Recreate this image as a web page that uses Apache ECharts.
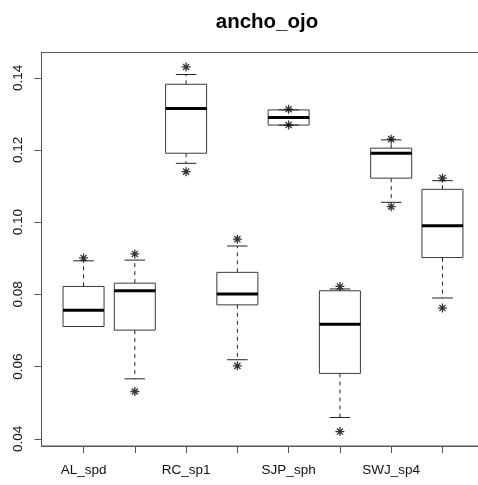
<!DOCTYPE html>
<html>
<head>
<meta charset="utf-8">
<script src="https://cdn.jsdelivr.net/npm/echarts@6/dist/echarts.min.js"></script>
<style>
  html, body { margin: 0; padding: 0; background: #fff; }
  #chart { width: 478px; height: 485px; }
</style>
</head>
<body>
<div id="chart"></div>
<script>
// Eye-width (ancho_ojo) by group: box statistics and extreme points
const groupPositions = [1, 2, 3, 4, 5, 6, 7, 8];
const lowWhisker  = [0.0711, 0.0566, 0.1163, 0.0619, 0.1269, 0.0459, 0.1055, 0.0790];
const lowerQuart  = [0.0711, 0.0701, 0.1191, 0.0771, 0.1269, 0.0581, 0.1122, 0.0902];
const medians     = [0.0756, 0.0810, 0.1315, 0.0801, 0.1290, 0.0717, 0.1191, 0.0990];
const upperQuart  = [0.0822, 0.0831, 0.1382, 0.0861, 0.1311, 0.0810, 0.1205, 0.1091];
const highWhisker = [0.0893, 0.0895, 0.1409, 0.0934, 0.1311, 0.0815, 0.1228, 0.1115];
const maxPoints   = [0.0901, 0.0912, 0.1430, 0.0953, 0.1313, 0.0822, 0.1230, 0.1122];
const minPoints   = [null,   0.0531, 0.1140, 0.0602, 0.1269, 0.0420, 0.1043, 0.0762];

const labelPositions = [1, 3, 5, 7];
const tickLabels = ['AL_spd', 'RC_sp1', 'SJP_sph', 'SWJ_sp4'];
const yTicks = [0.04, 0.06, 0.08, 0.10, 0.12, 0.14];

const boxData = groupPositions.map((x, i) =>
  [x, lowWhisker[i], lowerQuart[i], medians[i], upperQuart[i], highWhisker[i]]);

const pointData = [];
groupPositions.forEach((x, i) => {
  if (maxPoints[i] != null) pointData.push([x, maxPoints[i]]);
  if (minPoints[i] != null) pointData.push([x, minPoints[i]]);
});

const boxStroke = '#3a3a3a';
const fontFamily = 'Liberation Sans, Arial, sans-serif';

function renderBox(params, api) {
  const x = api.value(0);
  const half = api.size([0.8, 0])[0] / 2;
  const cap = half / 2;
  const pLow = api.coord([x, api.value(1)]);
  const pQ1 = api.coord([x, api.value(2)]);
  const pMed = api.coord([x, api.value(3)]);
  const pQ3 = api.coord([x, api.value(4)]);
  const pHigh = api.coord([x, api.value(5)]);
  const cx = pMed[0];
  const children = [];
  const dashed = { stroke: '#222', lineWidth: 1, lineDash: [4, 4] };
  const solid = { stroke: '#222', lineWidth: 1 };
  if (pLow[1] - pQ1[1] > 0.5) {
    children.push({ type: 'line', shape: { x1: cx, y1: pQ1[1], x2: cx, y2: pLow[1] }, style: dashed });
  }
  if (pQ3[1] - pHigh[1] > 0.5) {
    children.push({ type: 'line', shape: { x1: cx, y1: pQ3[1], x2: cx, y2: pHigh[1] }, style: dashed });
  }
  children.push({ type: 'line', shape: { x1: cx - cap, y1: pLow[1], x2: cx + cap, y2: pLow[1] }, style: solid });
  children.push({ type: 'line', shape: { x1: cx - cap, y1: pHigh[1], x2: cx + cap, y2: pHigh[1] }, style: solid });
  children.push({
    type: 'rect',
    shape: { x: cx - half, y: pQ3[1], width: half * 2, height: pQ1[1] - pQ3[1] },
    style: { fill: 'rgba(255,255,255,0)', stroke: boxStroke, lineWidth: 1 }
  });
  children.push({
    type: 'line',
    shape: { x1: cx - half, y1: pMed[1], x2: cx + half, y2: pMed[1] },
    style: { stroke: '#000', lineWidth: 3 }
  });
  return { type: 'group', children };
}

const chart = echarts.init(document.getElementById('chart'), null, { renderer: 'canvas' });
chart.setOption({
  animation: false,
  backgroundColor: '#fff',
  textStyle: { fontFamily },
  title: {
    text: 'ancho_ojo',
    left: 262,
    top: 7,
    textAlign: 'center',
    textStyle: { fontSize: 20.5, fontWeight: 'bold', color: '#000', fontFamily }
  },
  grid: {
    left: 41.5,
    top: 52.5,
    right: -6.5,
    bottom: 39,
    show: true,
    borderColor: '#555',
    borderWidth: 1,
    backgroundColor: 'transparent',
    containLabel: false,
    outerBoundsMode: 'none'
  },
  xAxis: {
    type: 'value',
    min: 0.18,
    max: 8.82,
    splitLine: { show: false },
    axisLine: { show: true, lineStyle: { color: '#555', width: 1 } },
    axisTick: { show: true, length: 7, customValues: groupPositions, lineStyle: { color: '#555' } },
    axisLabel: {
      show: true,
      customValues: labelPositions,
      formatter: v => tickLabels[labelPositions.indexOf(Math.round(v))] || '',
      margin: 17,
      fontSize: 13.5,
      color: '#111',
      fontFamily
    }
  },
  yAxis: {
    type: 'value',
    min: 0.038,
    max: 0.147,
    splitLine: { show: false },
    axisLine: { show: true, lineStyle: { color: '#555', width: 1 } },
    axisTick: { show: true, length: 7, customValues: yTicks, lineStyle: { color: '#555' } },
    axisLabel: {
      show: true,
      customValues: yTicks,
      formatter: v => v.toFixed(2),
      rotate: 90,
      margin: 16,
      fontSize: 13.5,
      color: '#111',
      fontFamily
    }
  },
  series: [
    {
      type: 'custom',
      renderItem: renderBox,
      data: boxData,
      encode: { x: 0, y: [1, 2, 3, 4, 5] },
      z: 2
    },
    {
      type: 'scatter',
      data: pointData,
      symbol: 'path://M5,0L5,10M0,5L10,5M1.6,1.6L8.4,8.4M8.4,1.6L1.6,8.4',
      symbolSize: 9,
      itemStyle: { color: 'rgba(0,0,0,0)', borderColor: '#000', borderWidth: 1.3 },
      z: 3
    }
  ]
});
</script>
</body>
</html>
